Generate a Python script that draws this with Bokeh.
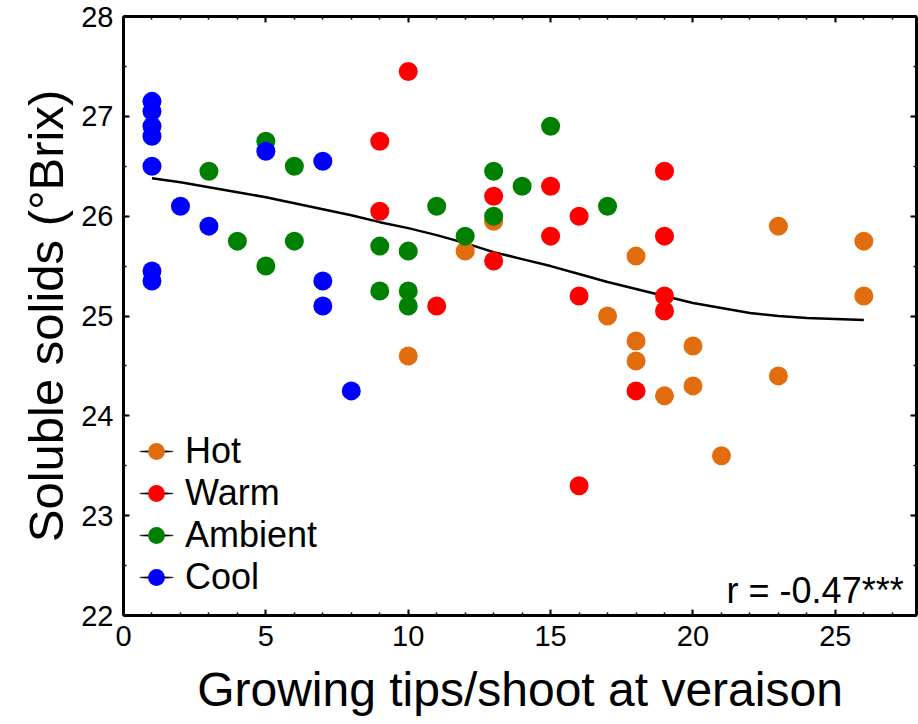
from bokeh.plotting import figure
from bokeh.models import (Range1d, LinearAxis, Legend, LegendItem, Label, Title,
                          SingleIntervalTicker, CustomJSTickFormatter)
from bokeh.embed import file_html
from bokeh.resources import INLINE

# ---- data ----
hot_x = [10, 12, 13, 17, 18, 18, 18, 19, 20, 20, 21, 23, 23, 26, 26]
hot_y = [24.60, 25.65, 25.95, 25.00, 25.60, 24.75, 24.55, 24.20, 24.70, 24.30, 23.60, 25.90, 24.40, 25.75, 25.20]

warm_x = [9, 9, 10, 11, 13, 13, 15, 15, 16, 16, 16, 18, 19, 19, 19, 19]
warm_y = [26.75, 26.05, 27.45, 25.10, 26.20, 25.55, 26.30, 25.80, 26.00, 25.20, 23.30, 24.25, 26.45, 25.80, 25.20, 25.05]

amb_x = [3, 4, 5, 5, 6, 6, 9, 9, 10, 10, 10, 11, 12, 13, 13, 14, 15, 17]
amb_y = [26.45, 25.75, 26.75, 25.50, 26.50, 25.75, 25.70, 25.25, 25.65, 25.25, 25.10, 26.10, 25.80, 26.45, 26.00, 26.30, 26.90, 26.10]

cool_x = [1, 1, 1, 1, 1, 1, 1, 2, 3, 5, 7, 7, 7, 8]
cool_y = [27.15, 27.05, 26.90, 26.80, 26.50, 25.45, 25.35, 26.10, 25.90, 26.65, 26.55, 25.35, 25.10, 24.25]

trend_x = [1, 2, 3, 4, 5, 6, 7, 8, 9, 10, 11, 12, 13, 14, 15, 16, 17, 18, 19, 20, 21, 22, 23, 24, 25, 26]
trend_y = [26.38, 26.34, 26.29, 26.24, 26.19, 26.13, 26.07, 26.01, 25.94, 25.88, 25.81, 25.73, 25.64, 25.57, 25.50, 25.42, 25.34, 25.27, 25.20, 25.13, 25.08, 25.03, 25.00, 24.98, 24.97, 24.96]

series_names = ["Hot", "Warm", "Ambient", "Cool"]
series_colors = ["#E26D0E", "#FF0000", "#008000", "#0000FF"]

x_ticks_step = 5
y_ticks_step = 1
x_title = "Growing tips/shoot at veraison"
y_title = "Soluble solids (°Brix)"
r_text = "r = -0.47***"

FONT = "'Liberation Sans', Arial, sans-serif"

p = figure(width=918, height=724, output_backend="svg", toolbar_location=None,
           x_range=Range1d(0, 27.85), y_range=Range1d(22, 28),
           min_border_left=123, min_border_right=2, min_border_top=16, min_border_bottom=109,
           x_axis_label=x_title)
p.outline_line_color = None
p.xgrid.visible = False
p.ygrid.visible = False
p.background_fill_color = "white"
p.border_fill_color = "white"


def style_axis(ax, labels=True):
    ax.axis_line_width = 3
    ax.axis_line_color = "black"
    ax.major_tick_in = 6
    ax.major_tick_out = 0
    ax.minor_tick_in = 3
    ax.minor_tick_out = 0
    ax.major_tick_line_width = 2
    ax.minor_tick_line_width = 1.5
    ax.major_tick_line_color = "black"
    ax.minor_tick_line_color = "black"
    if labels:
        ax.major_label_text_font = FONT
        ax.major_label_text_font_size = "29px"
        ax.major_label_text_color = "black"
        ax.axis_label_text_font = FONT
        ax.axis_label_text_font_style = "normal"
        ax.axis_label_text_color = "black"
    else:
        ax.formatter = CustomJSTickFormatter(code="return ''")
        ax.major_label_standoff = 0
        ax.axis_label = None


p.xaxis.ticker = SingleIntervalTicker(interval=x_ticks_step, num_minor_ticks=5)
p.yaxis.ticker = SingleIntervalTicker(interval=y_ticks_step, num_minor_ticks=2)
style_axis(p.xaxis[0])
style_axis(p.yaxis[0])
p.xaxis.axis_label_text_font_size = "48px"
p.xaxis.major_label_standoff = 10
p.yaxis.major_label_standoff = 10
p.xaxis.axis_label_standoff = 14

top_ax = LinearAxis(ticker=SingleIntervalTicker(interval=x_ticks_step, num_minor_ticks=5))
right_ax = LinearAxis(ticker=SingleIntervalTicker(interval=y_ticks_step, num_minor_ticks=2))
style_axis(top_ax, labels=False)
style_axis(right_ax, labels=False)
p.add_layout(top_ax, "above")
p.add_layout(right_ax, "right")

# y axis title, centred on the frame
p.add_layout(Title(text=y_title, align="center", standoff=12,
                   text_font=FONT, text_font_size="49px", text_font_style="normal",
                   text_color="black"), "left")

# trend line
p.line(trend_x, trend_y, line_color="black", line_width=2.5)

# scatter series (Hot drawn first, Cool last)
renderers = []
for xs, ys, col in zip([hot_x, warm_x, amb_x, cool_x], [hot_y, warm_y, amb_y, cool_y], series_colors):
    r = p.scatter(xs, ys, size=19, fill_color=col, line_color=col, line_width=0)
    renderers.append(r)

# legend: black stroke behind each marker
nan = float("nan")
items = []
for name, r, col in zip(series_names, renderers, series_colors):
    stroke = p.ellipse(x=[nan], y=[nan], width=42, height=2.2, width_units="screen",
                       height_units="screen", angle=-0.85, fill_color="black",
                       line_color="black", line_width=0.5)
    items.append(LegendItem(label=name, renderers=[stroke, r]))

legend = Legend(items=items, location=(9, 17), padding=0, margin=0, spacing=0,
                glyph_width=48, glyph_height=42, label_standoff=5,
                label_text_font=FONT, label_text_font_size="36px", label_text_color="black",
                border_line_color=None, background_fill_alpha=0)
p.add_layout(legend, "center")

p.add_layout(Label(x=27.4, y=22.25, text=r_text, text_align="right",
                   text_baseline="alphabetic", text_font=FONT,
                   text_font_size="36px", text_color="black"))

open("out.html", "w").write(file_html(p, INLINE))
